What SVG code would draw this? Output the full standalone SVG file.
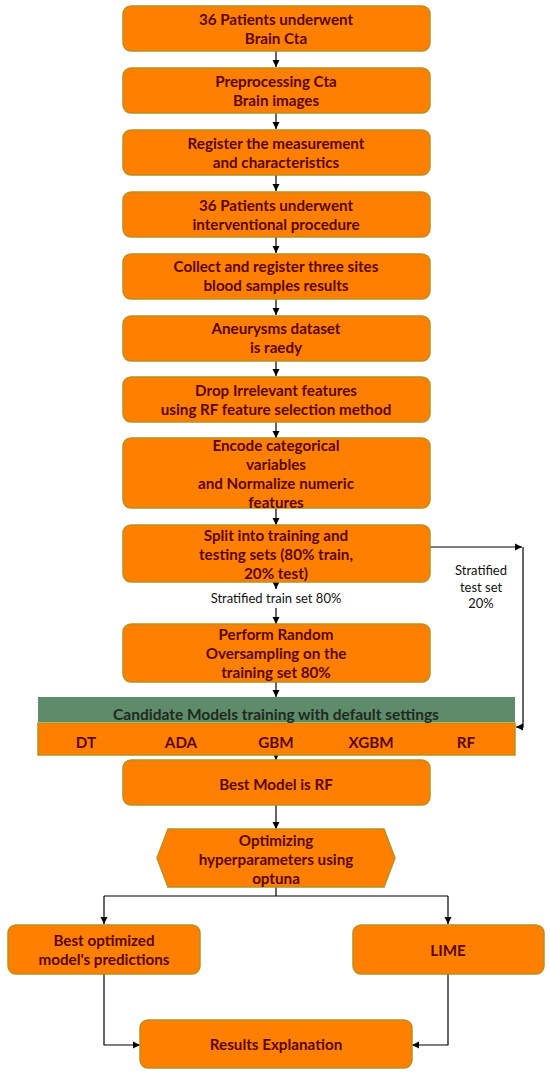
<svg xmlns="http://www.w3.org/2000/svg" width="550" height="1076" viewBox="0 0 550 1076">
<defs>
<marker id="ah" markerWidth="8" markerHeight="8" refX="7" refY="4" orient="auto" markerUnits="userSpaceOnUse">
<path d="M0,0.5 L7,4 L0,7.5 Z" fill="#000"/>
</marker>
<style>
.box{fill:#FF8000;stroke:#B8901E;stroke-width:1.5}
.t{font-family:Lato,"Liberation Sans",sans-serif;font-weight:bold;font-size:15.2px;fill:#5A0505;text-anchor:middle}
.lbl{font-family:Lato,"Liberation Sans",sans-serif;font-size:13px;fill:#111;text-anchor:middle}
.bt{font-family:Lato,"Liberation Sans",sans-serif;font-weight:bold;font-size:15.5px;fill:#1E2A20;text-anchor:middle}
.c{fill:none;stroke:#000;stroke-width:1.2}
</style>
</defs>
<rect width="550" height="1076" fill="#fff"/>
<g id="connectors">
<line class="c" x1="276" y1="51" x2="276" y2="67" marker-end="url(#ah)"/>
<line class="c" x1="276" y1="113" x2="276" y2="129" marker-end="url(#ah)"/>
<line class="c" x1="276" y1="175" x2="276" y2="191" marker-end="url(#ah)"/>
<line class="c" x1="276" y1="237" x2="276" y2="253" marker-end="url(#ah)"/>
<line class="c" x1="276" y1="299" x2="276" y2="315" marker-end="url(#ah)"/>
<line class="c" x1="276" y1="361" x2="276" y2="376" marker-end="url(#ah)"/>
<line class="c" x1="276" y1="422" x2="276" y2="438" marker-end="url(#ah)"/>
<line class="c" x1="276" y1="508" x2="276" y2="525" marker-end="url(#ah)"/>
<line class="c" x1="276" y1="582" x2="276" y2="589" marker-end="url(#ah)"/>
<line class="c" x1="276" y1="608" x2="276" y2="624" marker-end="url(#ah)"/>
<line class="c" x1="276" y1="682" x2="276" y2="697" marker-end="url(#ah)"/>
<line class="c" x1="430" y1="547" x2="522" y2="547" marker-end="url(#ah)"/>
<path class="c" d="M523,547 L523,727 L516,727" marker-end="url(#ah)"/>
<line class="c" x1="276" y1="755" x2="276" y2="760" marker-end="url(#ah)"/>
<line class="c" x1="276" y1="805" x2="276" y2="829" marker-end="url(#ah)"/>
<path class="c" d="M276,887 L276,896"/>
<path class="c" d="M104,896 L448,896"/>
<line class="c" x1="104" y1="896" x2="104" y2="924" marker-end="url(#ah)"/>
<line class="c" x1="448" y1="896" x2="448" y2="924" marker-end="url(#ah)"/>
<path class="c" d="M104,974 L104,1045 L140,1045" marker-end="url(#ah)"/>
<path class="c" d="M448,974 L448,1045 L412,1045" marker-end="url(#ah)"/>
<text class="lbl" x="276" y="603">Stratified train set 80%</text>
<text class="lbl" x="481" y="575">Stratified</text>
<text class="lbl" x="481" y="592">test set</text>
<text class="lbl" x="481" y="608">20%</text>
</g>
<g id="n1"><rect class="box" x="123" y="6" width="307" height="45" rx="8"/>
<text class="t" x="276" y="25">36 Patients underwent</text><text class="t" x="276" y="44">Brain Cta</text></g>
<g id="n2"><rect class="box" x="123" y="68" width="307" height="45" rx="8"/>
<text class="t" x="276" y="87">Preprocessing Cta</text><text class="t" x="276" y="106">Brain images</text></g>
<g id="n3"><rect class="box" x="123" y="130" width="307" height="45" rx="8"/>
<text class="t" x="276" y="149">Register the measurement</text><text class="t" x="276" y="168">and characteristics</text></g>
<g id="n4"><rect class="box" x="123" y="192" width="307" height="45" rx="8"/>
<text class="t" x="276" y="211">36 Patients underwent</text><text class="t" x="276" y="230">interventional procedure</text></g>
<g id="n5"><rect class="box" x="123" y="254" width="307" height="45" rx="8"/>
<text class="t" x="276" y="272">Collect and register three sites</text><text class="t" x="276" y="291">blood samples results</text></g>
<g id="n6"><rect class="box" x="123" y="316" width="307" height="45" rx="8"/>
<text class="t" x="276" y="334">Aneurysms dataset</text><text class="t" x="276" y="353">is raedy</text></g>
<g id="n7"><rect class="box" x="123" y="377" width="307" height="45" rx="8"/>
<text class="t" x="276" y="396">Drop Irrelevant features</text><text class="t" x="276" y="415">using RF feature selection method</text></g>
<g id="n8"><rect class="box" x="123" y="438" width="307" height="70" rx="8"/>
<text class="t" x="276" y="451">Encode categorical</text><text class="t" x="276" y="470">variables</text><text class="t" x="276" y="489">and Normalize numeric</text><text class="t" x="276" y="508">features</text></g>
<g id="n9"><rect class="box" x="123" y="525" width="307" height="57" rx="8"/>
<text class="t" x="276" y="541">Split into training and</text><text class="t" x="276" y="560">testing sets (80% train,</text><text class="t" x="276" y="579">20% test)</text></g>
<g id="n10"><rect class="box" x="123" y="624" width="307" height="58" rx="8"/>
<text class="t" x="276" y="640">Perform Random</text><text class="t" x="276" y="659">Oversampling on the</text><text class="t" x="276" y="678">training set 80%</text></g>
<g id="n11">
<rect x="38" y="697" width="477" height="25" fill="#5E8C6B"/>
<rect class="box" x="38" y="723" width="477" height="32"/>
<text class="bt" x="276" y="720">Candidate Models training with default settings</text>
<text class="t" x="86" y="748">DT</text><text class="t" x="181" y="748">ADA</text><text class="t" x="276" y="748">GBM</text><text class="t" x="371" y="748">XGBM</text><text class="t" x="466" y="748">RF</text>
</g>
<g id="n12"><rect class="box" x="123" y="760" width="307" height="45" rx="8"/>
<text class="t" x="276" y="790">Best Model is RF</text></g>
<g id="n13"><polygon class="box" points="168,829 384,829 395,858 384,887 168,887 157,858"/>
<text class="t" x="276" y="846">Optimizing</text><text class="t" x="276" y="865">hyperparameters using</text><text class="t" x="276" y="884">optuna</text></g>
<g id="n14"><rect class="box" x="8" y="925" width="192" height="49" rx="8"/>
<text class="t" x="104" y="946">Best optimized</text><text class="t" x="104" y="965">model's predictions</text></g>
<g id="n15"><rect class="box" x="353" y="925" width="191" height="49" rx="8"/>
<text class="t" x="448" y="956">LIME</text></g>
<g id="n16"><rect class="box" x="140" y="1020" width="272" height="48" rx="8"/>
<text class="t" x="276" y="1050">Results Explanation</text></g>
</svg>
